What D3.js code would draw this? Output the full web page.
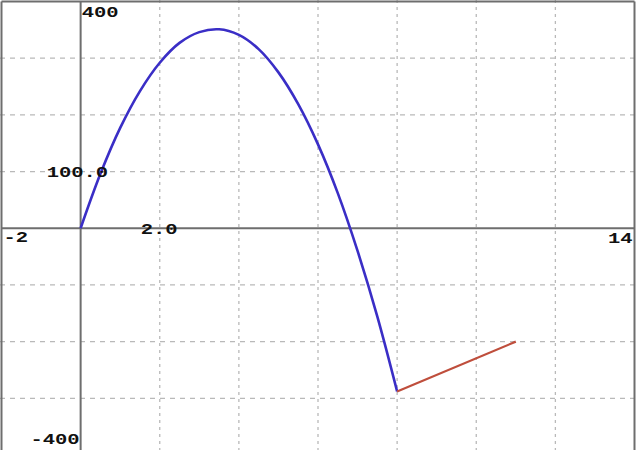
<!DOCTYPE html>
<html>
<head>
<meta charset="utf-8">
<script src="https://cdn.jsdelivr.net/npm/d3@7"></script>
<style>
  html, body { margin: 0; padding: 0; background: #fff; }
  svg { display: block; }
</style>
</head>
<body>
<svg id="chart" width="638" height="450"></svg>
<script>
// ---- data ----
const xDomain = [-2, 14];
const yDomain = [-400, 400];
const xGridValues = [2, 4, 6, 8, 10, 12];
const yGridValues = [-300, -200, -100, 100, 200, 300];
const curveX = [0, 0.5, 1, 1.5, 2, 2.5, 3, 3.5, 4, 4.5, 5, 5.5, 6, 6.5, 7, 7.5, 8];
const curveY = [0, 96, 177, 242, 292, 327, 346, 351, 341, 316, 275, 219, 148, 62, -40, -156, -288];
const segmentX = [8, 11];
const segmentY = [-288, -200];
// tick labels: text, value on axis
const xTickLabels = [{ text: "-2", v: -2 }, { text: "2.0", v: 2 }, { text: "14", v: 14 }];
const yTickLabels = [{ text: "400", v: 400 }, { text: "100.0", v: 100 }, { text: "-400", v: -400 }];

// ---- drawing ----
const svg = d3.select("#chart");
const W = 638, H = 450;
const x = d3.scaleLinear().domain(xDomain).range([1.5, 634.5]);
const y = d3.scaleLinear().domain(yDomain).range([455, 1.5]);

const gridColor = "#b9b9b9";
const axisColor = "#6e6e6e";

// grid
svg.append("g").selectAll("line").data(xGridValues).join("line")
  .attr("x1", d => x(d)).attr("x2", d => x(d))
  .attr("y1", 0).attr("y2", H)
  .attr("stroke", gridColor).attr("stroke-width", 1.3)
  .attr("stroke-dasharray", "3,4");
svg.append("g").selectAll("line").data(yGridValues).join("line")
  .attr("x1", 0).attr("x2", W)
  .attr("y1", d => y(d)).attr("y2", d => y(d))
  .attr("stroke", gridColor).attr("stroke-width", 1.3)
  .attr("stroke-dasharray", "5,5");

// frame
svg.append("line").attr("x1", x(-2)).attr("x2", x(-2)).attr("y1", y(400)).attr("y2", H)
  .attr("stroke", axisColor).attr("stroke-width", 2);
svg.append("line").attr("x1", x(14)).attr("x2", x(14)).attr("y1", y(400)).attr("y2", H)
  .attr("stroke", axisColor).attr("stroke-width", 2);
svg.append("line").attr("x1", x(-2)).attr("x2", x(14)).attr("y1", y(400)).attr("y2", y(400))
  .attr("stroke", axisColor).attr("stroke-width", 2);

// axes
svg.append("line").attr("x1", x(-2)).attr("x2", x(14)).attr("y1", y(0)).attr("y2", y(0))
  .attr("stroke", axisColor).attr("stroke-width", 2);
svg.append("line").attr("x1", x(0)).attr("x2", x(0)).attr("y1", y(400)).attr("y2", H)
  .attr("stroke", axisColor).attr("stroke-width", 2);

// curve
const curvePts = curveX.map((d, i) => [d, curveY[i]]);
svg.append("path")
  .datum(curvePts)
  .attr("d", d3.line().x(d => x(d[0])).y(d => y(d[1])).curve(d3.curveCatmullRom))
  .attr("fill", "none").attr("stroke", "#3a2ec6").attr("stroke-width", 2.6)
  .attr("stroke-linejoin", "round");

const segPts = segmentX.map((d, i) => [d, segmentY[i]]);
svg.append("path")
  .datum(segPts)
  .attr("d", d3.line().x(d => x(d[0])).y(d => y(d[1])))
  .attr("fill", "none").attr("stroke", "#bf4e3c").attr("stroke-width", 2.2);

// labels
const font = "'Liberation Mono', 'DejaVu Sans Mono', monospace";
const charW = 12.3;
function label(text, lx, ly, anchor) {
  const t = svg.append("text")
    .attr("x", lx).attr("y", ly)
    .attr("font-family", font).attr("font-weight", "bold").attr("font-size", 15)
    .attr("fill", "#111")
    .attr("textLength", text.length * charW)
    .attr("lengthAdjust", "spacingAndGlyphs")
    .text(text);
  if (anchor) t.attr("text-anchor", anchor);
}
// x-axis tick labels
xTickLabels.forEach(t => {
  if (t.v === -2) label(t.text, x(t.v) + 2, y(0) + 14);
  else if (t.v === 14) label(t.text, x(t.v) - 2, y(0) + 15, "end");
  else label(t.text, x(t.v) - 19, y(0) + 6);
});
// y-axis tick labels
yTickLabels.forEach(t => {
  if (t.v === 400) label(t.text, x(0) + 1, y(t.v) + 15);
  else if (t.v === -400) label(t.text, x(0) - 1, H - 6, "end");
  else label(t.text, x(0) - 34, y(t.v) + 5);
});
</script>
</body>
</html>
